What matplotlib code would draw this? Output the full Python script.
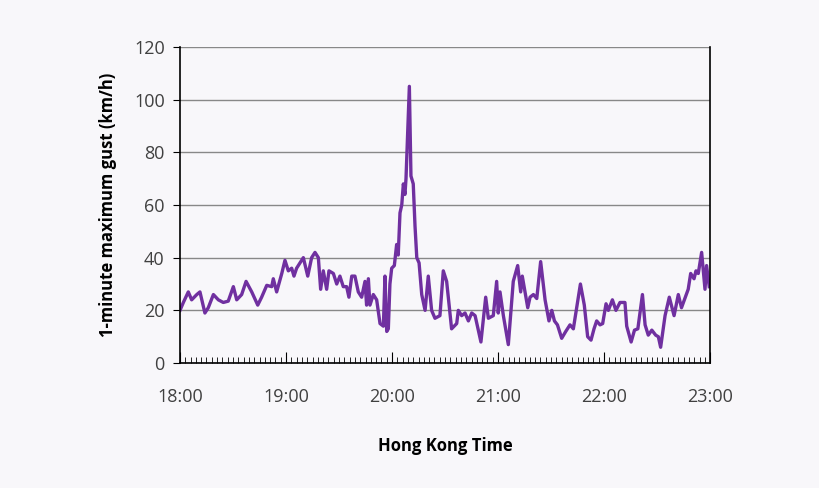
import matplotlib
matplotlib.use("Agg")
import matplotlib.pyplot as plt
import numpy as np

# minutes after 18:00
minutes = [0,1.9,4.7,6.6,9.5,11.3,14.1,16,18.9,21.7,24.5,27.3,30.2,32.1,34.9,37.4,40.6,44,46.2,49.1,51.9,52.8,54.7,57.6,59.4,
           61.3,63.2,64.5,66,67.9,69.8,72.3,74.5,76.4,78.3,79.6,81.1,83,84.3,86.8,88.7,90.5,92.4,94.3,95.6,97.2,
           99,100.9,102.8,104.7,105.6,106.6,107.5,109.4,111.3,113.2,115.1,116,117,117.9,118.8,119.8,121.3,122.6,123.5,124.5,
           125.5,126.4,127.3,127.9,128.9,129.8,130.7,132,133,134,135.3,
           136.8,138.7,140.5,142.4,144.3,147.1,149,150.9,153.7,156.6,157.5,159.4,161.3,163.2,165.1,167,170.3,173,174.5,177.3,
           179.2,180.1,181.1,183,185.8,188.6,191.1,192.8,193.7,
           196.8,198.1,200,201.9,204.1,206.6,208.8,210.4,211.9,213.6,216,218.3,220.7,222.6,224.5,226.6,228.8,230.7,232.6,234.3,
           235.8,237.7,239.2,241.1,242.4,244.7,246.7,249,251.8,252.8,255.3,257.2,259.1,261.7,263.2,265,267,269.2,270.7,272,
           274.5,276.9,279.6,282,283.8,287.6,289,290.9,292,293.3,295.2,297.1,298,299.5]
gust = [20,23,27,24,26,27,19,21,26,24,23,23.5,29,24,26,31,27,22,25,29.5,29,32,27,34,39,
        35,36,33,36,38,40,33,40,42,40,28,35,28,35,34,30,33,29,29,25,33,
        33,27,25,31,22,32,22,26,24,15,14,33,12,13,30,36,37,45,41,57,
        60,68,64,70,89,105,71,68,52,40,38,
        26,20,33,20,17,18,35,31,13,15,20,18,19,16,19,18,8,25,17,18,
        31,19,27,18,7,31,37,27,33,
        21,25,26,24.5,38.5,24,16,20,16,14.5,9.4,12,14.5,13,21,30,22,10,8.7,13,
        16,14.5,15,22.5,20,24,20,23,23,14,8,12.5,13,26,14.5,10.6,12.5,10.6,10,6,
        18,25,18,26,21,28,34,32,35,34,42,28,37,29]
xticklabels = ["18:00","19:00","20:00","21:00","22:00","23:00"]

plt.rcParams['font.family'] = ['Open Sans', 'DejaVu Sans']
fig = plt.figure(figsize=(8.2, 4.88), dpi=100)
fig.patch.set_facecolor('#f8f7fa')
ax = fig.add_axes([0.2195, 0.256, 0.6465, 0.648])
ax.set_facecolor('#f8f7fa')
ax.plot(minutes, gust, color='#7030a0', lw=2.4, solid_joinstyle='round')
ax.set_xlim(0, 300)
ax.set_ylim(0, 120)
ax.set_yticks(np.arange(0, 121, 20))
ax.set_xticks(np.arange(0, 301, 60))
ax.set_xticklabels(xticklabels)
ax.set_xticks(np.arange(0, 301, 3), minor=True)
ax.tick_params(axis='x', which='major', direction='in', length=8, labelsize=13, pad=18, color='black', labelcolor='#404040')
ax.tick_params(axis='x', which='minor', direction='in', length=4, color='black')
ax.tick_params(axis='y', direction='out', length=5, labelsize=13, color='black', labelcolor='#404040', pad=6)
ax.grid(axis='y', color='#888888', lw=1)
ax.set_axisbelow(True)
ax.spines['top'].set_visible(False)
for s in ['left', 'bottom', 'right']:
    ax.spines[s].set_color('black')
    ax.spines[s].set_linewidth(1.2)
ax.set_xlabel('Hong Kong Time', fontsize=12, fontweight='bold', labelpad=22)
ax.set_ylabel('1-minute maximum gust (km/h)', fontsize=12, fontweight='bold', labelpad=12)
fig.savefig('out.png', dpi=100, facecolor=fig.get_facecolor())
